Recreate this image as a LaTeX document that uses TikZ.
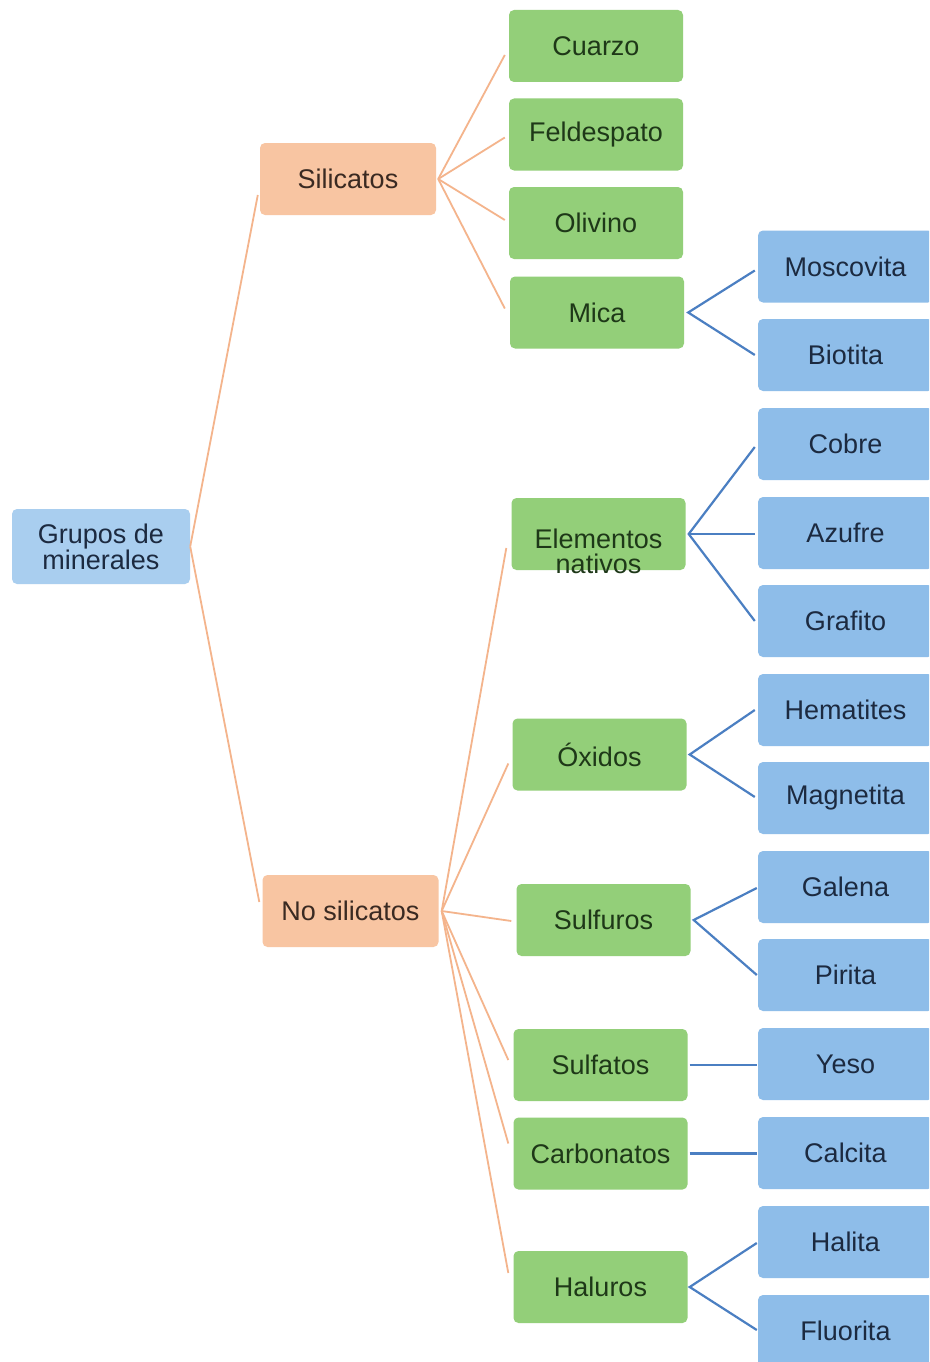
\documentclass[tikz,border=0pt]{standalone}
\usepackage{fontspec}
\setmainfont{Liberation Sans}
\usetikzlibrary{positioning}
\definecolor{orfill}{HTML}{F8C5A2}
\definecolor{orline}{HTML}{F4B48C}
\definecolor{ortext}{HTML}{3A2A22}
\definecolor{grfill}{HTML}{93CF79}
\definecolor{grtext}{HTML}{1E3818}
\definecolor{blfill}{HTML}{8EBDE9}
\definecolor{rootfill}{HTML}{A9CEEF}
\definecolor{bltext}{HTML}{1C2A40}
\definecolor{blline}{HTML}{4B7FC2}
\tikzset{
  box/.style={rectangle, rounded corners=5pt, inner sep=0pt, align=center,
    font=\fontsize{27}{25}\selectfont, minimum height=72pt},
  rootbox/.style={box, fill=rootfill, text=bltext, minimum width=178pt, minimum height=75pt},
  orbox/.style={box, fill=orfill, text=ortext, minimum width=176pt},
  grbox/.style={box, fill=grfill, text=grtext, minimum width=174pt},
  blbox/.style={box, fill=blfill, text=bltext, minimum width=175pt},
  txt/.style={inner sep=0pt, align=center, font=\fontsize{27}{25}\selectfont, text=grtext},
  orcon/.style={draw=orline, line width=1.8pt},
  blcon/.style={draw=blline, line width=2.2pt, line join=miter},
}
\begin{document}
\begin{tikzpicture}[x=1pt, y=-1pt]
\useasboundingbox (0,0) rectangle (929,1362);
\clip (0,0) rectangle (929,1362);
\fill[white] (0,0) rectangle (929,1362);

% root and level 1
\node[rootbox] (root) at (101,546.5) {Grupos de\\minerales};
\node[orbox] (sil) at (348,179) {Silicatos};
\node[orbox] (nosil) at (350.5,911) {No silicatos};

% level 2 (green)
\node[grbox] (cuarzo) at (596,46) {Cuarzo};
\node[grbox] (feld) at (596,134.5) {Feldespato};
\node[grbox] (oliv) at (596,223) {Olivino};
\node[grbox] (mica) at (597,312.5) {Mica};
\node[grbox] (elem) at (598.5,534) {};
\node[txt] (elemtxt) at (598.5,551) {Elementos\\nativos};
\node[grbox] (oxid) at (599.5,754.5) {Óxidos};
\node[grbox] (sulfu) at (603.5,920) {Sulfuros};
\node[grbox] (sulfa) at (600.5,1065) {Sulfatos};
\node[grbox] (carb) at (600.5,1153.5) {Carbonatos};
\node[grbox] (hal) at (600.5,1287) {Haluros};

% level 3 (blue)
\node[blbox] (mosc) at (845.5,266.5) {Moscovita};
\node[blbox] (biot) at (845.5,355) {Biotita};
\node[blbox] (cobre) at (845.5,444) {Cobre};
\node[blbox] (azuf) at (845.5,533) {Azufre};
\node[blbox] (graf) at (845.5,621) {Grafito};
\node[blbox] (hema) at (845.5,710) {Hematites};
\node[blbox] (magn) at (845.5,798) {Magnetita};
\node[blbox] (gale) at (845.5,887) {Galena};
\node[blbox] (piri) at (845.5,975) {Pirita};
\node[blbox] (yeso) at (845.5,1064) {Yeso};
\node[blbox] (calc) at (845.5,1153) {Calcita};
\node[blbox] (hali) at (845.5,1242) {Halita};
\node[blbox] (fluo) at (845.5,1331) {Fluorita};

% orange connectors
\draw[orcon] (root.east) -- ([shift={(-2,16)}]sil.west);
\draw[orcon] (root.east) -- ([shift={(-3,-9)}]nosil.west);
\draw[orcon] ([xshift=2]sil.east) -- ([shift={(-4,9)}]cuarzo.west);
\draw[orcon] ([xshift=2]sil.east) -- ([shift={(-4,3)}]feld.west);
\draw[orcon] ([xshift=2]sil.east) -- ([shift={(-4,-3)}]oliv.west);
\draw[orcon] ([xshift=2]sil.east) -- ([shift={(-5,-4)}]mica.west);
\draw[orcon] ([xshift=3]nosil.east) -- ([shift={(-5,14)}]elem.west);
\draw[orcon] ([xshift=3]nosil.east) -- ([shift={(-4,9)}]oxid.west);
\draw[orcon] ([xshift=3]nosil.east) -- ([shift={(-5,1)}]sulfu.west);
\draw[orcon] ([xshift=3]nosil.east) -- ([shift={(-5,-5)}]sulfa.west);
\draw[orcon] ([xshift=3]nosil.east) -- ([shift={(-5,-10)}]carb.west);
\draw[orcon] ([xshift=3]nosil.east) -- ([shift={(-5,-14)}]hal.west);

% blue connectors
\draw[blcon] ([shift={(-3,4)}]mosc.west) -- ([xshift=4]mica.east) -- ([xshift=-3]biot.west);
\draw[blcon] ([shift={(-3,3)}]cobre.west) -- ([xshift=3]elem.east) -- ([xshift=-3]graf.west);
\draw[blcon] ([xshift=3]elem.east) -- ([xshift=-3]elem.east -| azuf.west);
\draw[blcon] ([xshift=-3]hema.west) -- ([xshift=3]oxid.east) -- ([shift={(-3,-1)}]magn.west);
\draw[blcon] ([shift={(-1,1)}]gale.west) -- ([xshift=3]sulfu.east) -- ([xshift=-1]piri.west);
\draw[blcon] ([xshift=2]sulfa.east) -- ([xshift=-1]sulfa.east -| yeso.west);
\draw[blcon] ([xshift=2]carb.east) -- ([xshift=-1]carb.east -| calc.west);
\draw[blcon] ([shift={(-1,1)}]hali.west) -- ([xshift=2]hal.east) -- ([shift={(-1,-1)}]fluo.west);
\end{tikzpicture}
\end{document}
